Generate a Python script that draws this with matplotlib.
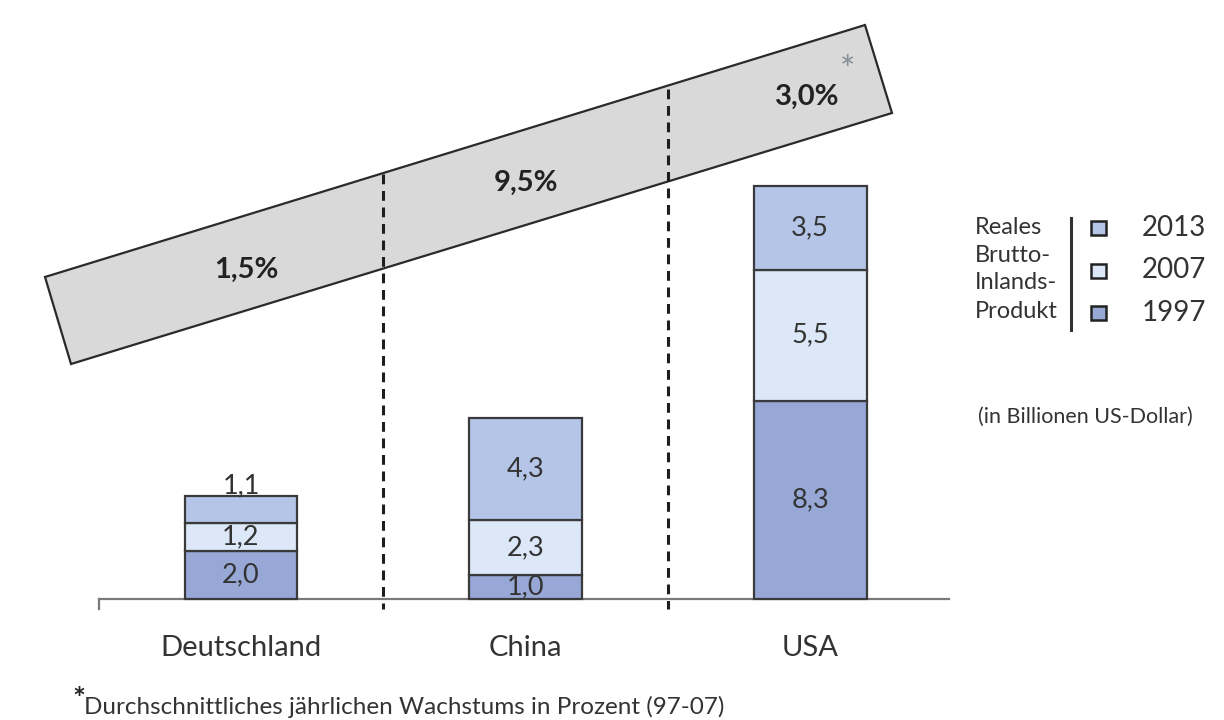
import matplotlib.pyplot as plt
from matplotlib.patches import Polygon, Rectangle
import numpy as np

plt.rcParams['font.family'] = ['Lato', 'DejaVu Sans']

# data
laender = ["Deutschland", "China", "USA"]
bip_1997 = [2.0, 1.0, 8.3]
bip_2007 = [1.2, 2.3, 5.5]
bip_2013 = [1.1, 4.3, 3.5]
wachstum = ["1,5%", "9,5%", "3,0%"]
jahre = ["2013", "2007", "1997"]

farben = {"1997": "#97a8d6", "2007": "#dce8f7", "2013": "#b4c5e8"}
kante = "#3a3a3a"

W, H = 1224, 720
fig = plt.figure(figsize=(W / 100, H / 100), dpi=100)
ax = fig.add_axes([0, 0, 1, 1])
ax.set_xlim(-0.847, 3.455)
ax.set_ylim(-5.07, 25.09)
ax.axis("off")


def px(x, y):
    # pixel (top-left origin) -> figure fraction
    return (x / W, 1 - y / H)


x = np.arange(len(laender))
breite = 0.397

# grey band with growth rates
band = Polygon([px(45, 277), px(865, 25), px(892, 113), px(71, 364)],
               closed=True, transform=fig.transFigure, facecolor="#d9d9d9",
               edgecolor="#2a2a2a", linewidth=1.6, zorder=1, clip_on=False)
ax.add_patch(band)

# stacked bars
unten = np.zeros(len(laender))
for jahr, werte in [("1997", bip_1997), ("2007", bip_2007), ("2013", bip_2013)]:
    werte = np.array(werte)
    ax.bar(x, werte, bottom=unten, width=breite, color=farben[jahr],
           edgecolor=kante, linewidth=1.6, zorder=3)
    for i, v in enumerate(werte):
        ym = unten[i] + v / 2
        if v < 1.15 and jahr == "2013":
            ym = unten[i] + v + 0.45
        ax.text(x[i], ym, f"{v:.1f}".replace(".", ","), ha="center", va="center",
                fontsize=19.5, color="#333333", zorder=4)
    unten += werte

# axis line with end ticks
ax.plot([-0.499, 2.49], [0, 0], color="#7a7a7a", lw=1.6, zorder=2)
ax.plot([-0.499, -0.499], [0, -0.42], color="#7a7a7a", lw=1.6, zorder=2)

# dashed separators
for xs, ytop in [(0.5, 17.8), (1.5, 21.37)]:
    ax.plot([xs, xs], [ytop, -0.4], color="#1e1e1e", lw=2.2,
            linestyle=(0, (3.2, 2.2)), zorder=2)

# growth labels
for (gx, gy), txt in zip([(246, 270), (526, 183), (807, 97)], wachstum):
    fig.text(*px(gx, gy), txt, ha="center", va="center", fontsize=21,
             fontweight="bold", color="#222222")
fig.text(*px(847, 72), "*", ha="center", va="center", fontsize=26,
         color="#8a9099")

# category labels
for i, name in enumerate(laender):
    ax.text(x[i], -2.05, name, ha="center", va="center", fontsize=21,
            color="#333333")

# legend
for j, zeile in enumerate(["Reales", "Brutto-", "Inlands-", "Produkt"]):
    fig.text(*px(975, 227 + j * 28), zeile, ha="left", va="center",
             fontsize=17, color="#333333")
fig.add_artist(plt.Line2D([1071 / W, 1071 / W], [1 - 218 / H, 1 - 330 / H],
                          color="#333333", lw=2.2))
for j, jahr in enumerate(jahre):
    yc = 228 + j * 42.5
    fig.patches.append(Rectangle(px(1091, yc + 7), 15 / W, 14 / H,
                                 transform=fig.transFigure,
                                 facecolor=farben[jahr], edgecolor="#222222",
                                 linewidth=1.8))
    fig.text(*px(1142, yc), jahr, ha="left", va="center", fontsize=20,
             color="#333333")
fig.text(*px(978, 417), "(in Billionen US-Dollar)", ha="left", va="center",
         fontsize=15.5, color="#333333")

# footnote
fig.text(*px(72, 700), "*", ha="left", va="center", fontsize=22,
         fontweight="bold", color="#222222")
fig.text(*px(84, 707), "Durchschnittliches jährlichen Wachstums in Prozent (97-07)",
         ha="left", va="center", fontsize=17.5, color="#333333")

fig.savefig("out.png", dpi=100)
